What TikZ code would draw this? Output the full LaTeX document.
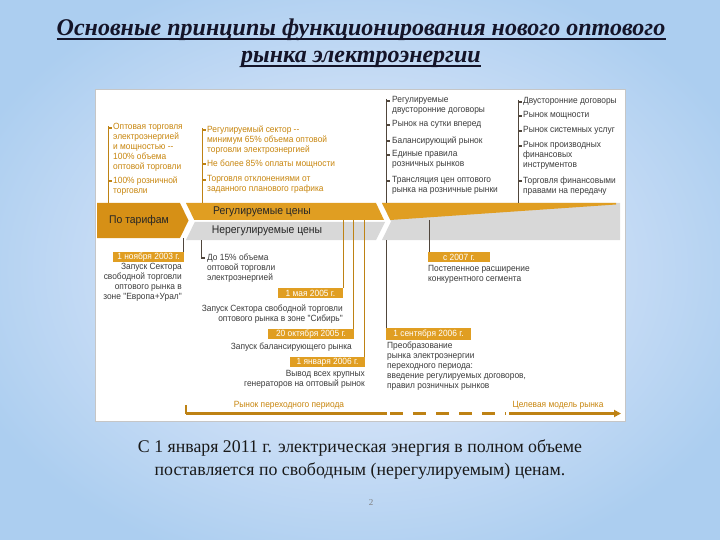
\documentclass[tikz,border=0pt]{standalone}
\usepackage{fontspec}
\setmainfont{Liberation Serif}
\newfontfamily\narrow[FakeStretch=0.93]{Liberation Sans}
\newfontfamily\titlefont{Liberation Serif}
\usetikzlibrary{arrows.meta}
\definecolor{ora}{RGB}{224,158,34}
\definecolor{orad}{RGB}{214,144,22}
\definecolor{otxt}{RGB}{200,134,14}
\definecolor{gtxt}{RGB}{60,60,60}
\definecolor{bandgray}{RGB}{216,216,216}
\definecolor{bgout}{RGB}{172,206,240}
\definecolor{bgin}{RGB}{238,240,252}
\definecolor{ttl}{RGB}{20,20,40}
\definecolor{olin}{RGB}{190,130,20}
\definecolor{dlin}{RGB}{80,70,60}
\tikzset{
  txt/.style={font=\narrow\fontsize{9}{10}\selectfont, inner sep=0pt, align=left, anchor=north west},
  otx/.style={txt, text=otxt},
  gtx/.style={txt, text=gtxt},
  rtx/.style={txt, text=gtxt, align=right, anchor=north east},
  datebox/.style={fill=ora, text=white, font=\narrow\fontsize{9}{10}\selectfont, inner sep=0pt, minimum height=10.5pt},
  vl/.style={line width=0.9pt},
  tick/.style={line width=1.8pt},
  bandtxt/.style={font=\narrow\fontsize{11.2}{13}\selectfont, text=black!85, inner sep=0pt},
  ttlst/.style={font=\titlefont\bfseries\itshape\fontsize{24}{28}\selectfont, text=ttl, inner sep=0pt, anchor=base},
  bottxt/.style={font=\fontsize{17.8}{21}\selectfont, text=black!90, inner sep=0pt, anchor=base},
}
\begin{document}
\begin{tikzpicture}[x=1pt,y=-1pt]
\useasboundingbox (0,0) rectangle (720,540);
\shade[inner color=bgin, outer color=bgout] (-60,-40) rectangle (780,580);
% panel
\draw[gray!45, fill=white] (95,89) rectangle (625,421);

% title
\node[ttlst] (T1) at (361,36) {Основные принципы функционирования нового оптового};
\node[ttlst] (T2) at (361,63) {рынка электроэнергии};
\draw[ttl, line width=1.2pt] ([yshift=-3pt]T1.base west) -- ([yshift=-3pt]T1.base east);
\draw[ttl, line width=1.2pt] ([yshift=-3pt]T2.base west) -- ([yshift=-3pt]T2.base east);

% band
\fill[orad] (97,203) -- (180,203) -- (188.5,220.5) -- (180,238) -- (97,238) -- cycle;
\fill[ora] (186,203) -- (376,203) -- (384,220) -- (194.3,220) -- cycle;
\fill[bandgray] (194.8,222) -- (385,222) -- (376,240) -- (186,240) -- cycle;
\fill[bandgray] (382,203) -- (620,203) -- (620,240) -- (382,240) -- (391,221.5) -- cycle;
\fill[ora] (382,203) -- (616,203) -- (616,204.5) -- (390.3,220) -- cycle;
\node[bandtxt] (pt) at (139,221) {По тарифам};
\node[bandtxt] (rc) at (262,211.5) {Регулируемые цены};
\node[bandtxt] (nc) at (267,231) {Нерегулируемые цены};

% column 1
\draw[olin, vl] (108,126) -- (108,203);
\foreach \y in {128,181} \draw[olin, tick] (108,\y) -- (112,\y);
\node[otx] (c1a) at (113,123.5) {Оптовая торговля\\электроэнергией\\и мощностью~--\\100\% объема\\оптовой торговли};
\node[otx] (c1b) at (113,176.5) {100\% розничной\\торговли};

% column 2
\draw[olin, vl] (202,128) -- (202,203);
\foreach \y in {130,164,180} \draw[olin, tick] (202,\y) -- (206,\y);
\node[otx] (c2a) at (207,125.5) {Регулируемый сектор~--\\минимум 65\% объема оптовой\\торговли электроэнергией};
\node[otx] (c2b) at (207,159.5) {Не более 85\% оплаты мощности};
\node[otx] (c2c) at (207,175.5) {Торговля отклонениями от\\заданного планового графика};

% column 3
\draw[dlin, vl] (386,99) -- (386,203);
\draw[dlin, vl] (386,240) -- (386,328);
\foreach \y in {101,125,141,155,181} \draw[dlin, tick] (386,\y) -- (390,\y);
\node[gtx] (c3a) at (392,96.5) {Регулируемые\\двусторонние договоры};
\node[gtx] (c3b) at (392,120.5) {Рынок на сутки вперед};
\node[gtx] (c3c) at (392,136.5) {Балансирующий рынок};
\node[gtx] (c3d) at (392,150.5) {Единые правила\\розничных рынков};
\node[gtx] (c3e) at (392,176.5) {Трансляция цен оптового\\рынка на розничные рынки};

% column 4
\draw[dlin, vl] (518,100) -- (518,203);
\foreach \y in {102,116,131,146,181} \draw[dlin, tick] (518,\y) -- (522,\y);
\node[gtx] (c4a) at (523,97.5) {Двусторонние договоры};
\node[gtx] (c4b) at (523,111.5) {Рынок мощности};
\node[gtx] (c4c) at (523,126.5) {Рынок системных услуг};
\node[gtx] (c4d) at (523,141.5) {Рынок производных\\финансовых\\инструментов};
\node[gtx] (c4e) at (523,176.5) {Торговля финансовыми\\правами на передачу};

% timeline below
\node[datebox, minimum width=71pt] (d1) at (148.5,257) {1 ноября 2003 г.};
\draw[dlin, vl] (183,238) -- (183,252);
\node[rtx] (t1) at (182,263.5) {Запуск Сектора\\свободной торговли\\оптового рынка в\\зоне "Европа+Урал"};

\coordinate (k15) at (201,258);
\draw[dlin, vl] (201,240) -- (k15);
\draw[dlin, tick] (k15) -- ++(4,0);
\node[gtx] (t15) at (207,254) {До 15\% объема\\оптовой торговли\\электроэнергией};

\node[datebox, minimum width=65pt] (d2) at (310.5,293) {1 мая 2005 г.};
\draw[olin, vl] (343,220) -- (343,288);
\node[rtx] (t2) at (343,304.5) {Запуск Сектора свободной торговли\\оптового рынка в зоне "Сибирь"};

\node[datebox, minimum width=86pt] (d3) at (311,334) {20 октября 2005 г.};
\draw[olin, vl] (353.5,220) -- (353.5,329);
\node[rtx] (t3) at (352,342.5) {Запуск балансирующего рынка};

\node[datebox, minimum width=75pt] (d4) at (327.5,362) {1 января 2006 г.};
\draw[olin, vl] (364.5,220) -- (364.5,357);
\node[rtx] (t4) at (365,370.5) {Вывод всех крупных\\генераторов на оптовый рынок};

\node[datebox, minimum width=62pt] (d5) at (459,257) {с 2007 г.};
\draw[dlin, vl] (429,220) -- (429,252);
\node[gtx] (t5) at (428,265.5) {Постепенное расширение\\конкурентного сегмента};

\node[datebox, minimum width=85pt, minimum height=11.5pt] (d6) at (428.5,334) {1 сентября 2006 г.};
\node[gtx] (t6) at (387,341.5) {Преобразование\\рынка электроэнергии\\переходного периода:\\введение регулируемых договоров,\\правил розничных рынков};

% bottom axis
\coordinate (a0) at (186,413.5);
\coordinate (a1) at (387,413.5);
\coordinate (a2) at (509,413.5);
\coordinate (a3) at (621,413.5);
\draw[olin, line width=2.4pt] (a0) -- (a1);
\draw[olin, line width=1.2pt] (186,405) -- (a0);
\draw[olin, line width=2.4pt, dash pattern=on 13pt off 10pt] (390,413.5) -- (506,413.5);
\draw[olin, line width=2.4pt, -{Triangle[length=7pt,width=7pt]}] (a2) -- (a3);
\node[otx, anchor=center] (lt) at (289,405) {Рынок переходного периода};
\node[otx, anchor=center] (lm) at (558,405) {Целевая модель рынка};

% bottom text
\node[bottxt] (b1) at (360,452) {С 1 января 2011 г. электрическая энергия в полном объеме};
\node[bottxt] (b2) at (360,475) {поставляется по свободным (нерегулируемым) ценам.};
\node[font=\fontsize{9}{10}\selectfont, text=gray] (pg) at (371,503) {2};
\end{tikzpicture}
\end{document}
